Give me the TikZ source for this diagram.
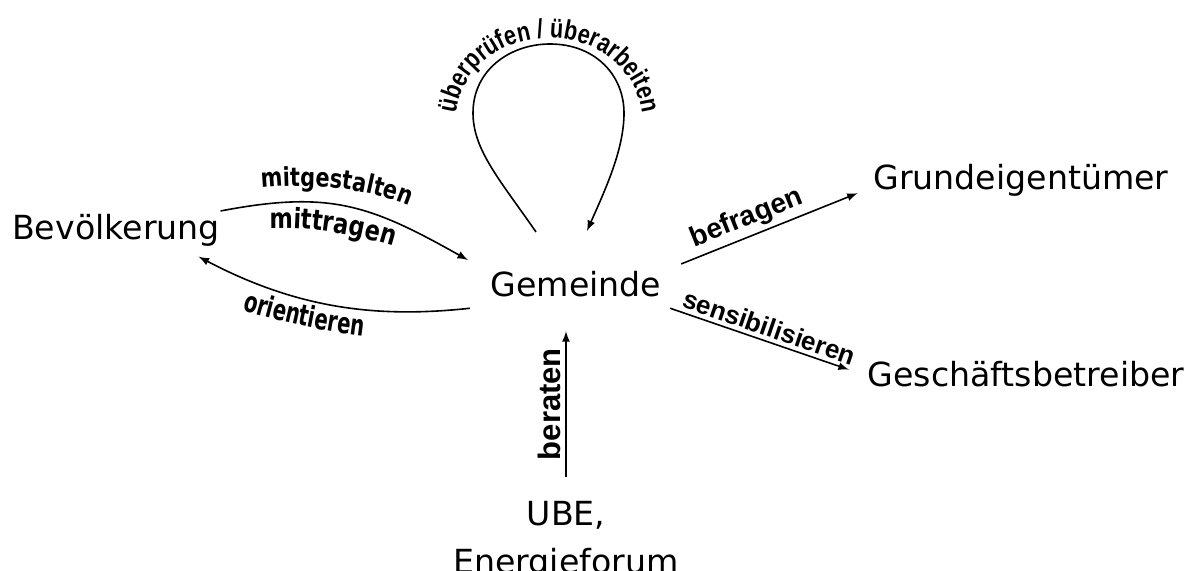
\documentclass[tikz,border=0pt]{standalone}
\usepackage{fontspec}
\setmainfont{DejaVu Sans}
\newfontfamily\lblfamily{Liberation Sans}
\newfontfamily\narrowfamily{DejaVu Sans}[FakeStretch=0.8]
\newfontfamily\tallfamily{DejaVu Sans}[FakeStretch=0.68]
\newfontfamily\loopfamily{Liberation Sans}[FakeStretch=0.8]
\newcommand\curvefont{\narrowfamily\bfseries\fontsize{13}{15}\selectfont}
\newcommand\loopfont{\loopfamily\bfseries\fontsize{13.5}{15}\selectfont}
\usetikzlibrary{arrows,decorations.text}

\begin{document}
\begin{tikzpicture}[x=0.5pt,y=-0.5pt,>=latex,line width=0.8pt,
  party/.style={font=\fontsize{16.6}{24}\selectfont, inner sep=2pt},
  verb/.style={font=\lblfamily\bfseries\fontsize{14}{16}\selectfont, inner sep=2pt, sloped, above},
  curvetext/.style={decoration={text along path, text align=center, text={#1}}, decorate}]
  \useasboundingbox (0,0) rectangle (1200,571);

  \node[party, anchor=base]                (bev) at (116,240)  {Bevölkerung};
  \node[party, anchor=base]                (gem) at (576,297)  {Gemeinde};
  \node[party, anchor=base]                (gru) at (1021,190) {Grundeigentümer};
  \node[party, anchor=base]                (ges) at (1026,387) {Geschäftsbetreiber};
  \node[party, anchor=north, align=center] (ube) at (566,496)  {UBE,\\Energieforum};

  % Bevoelkerung <-> Gemeinde
  \draw[->] ([xshift=-2pt,yshift=-0.5pt]bev.north east)
    .. controls (330,190) and (370,205) .. ([xshift=-9pt,yshift=3.5pt]gem.north west);
  \draw[->] ([xshift=-8pt,yshift=-3pt]gem.south west)
    .. controls (380,318) and (300,310) .. ([xshift=-13pt,yshift=-2.5pt]bev.south east);
  \path[curvetext={|\curvefont|mitgestalten}] (254,189) .. controls (310,182) and (370,188) .. (416,209);
  \path[curvetext={|\curvefont\fontsize{14}{16}\selectfont|mittragen}] (264,229) .. controls (300,226) and (350,232) .. (399,248);
  \path[curvetext={|\tallfamily\bfseries\fontsize{14.5}{16}\selectfont|orientieren}] (234,308) .. controls (280,322) and (320,331) .. (372,337);

  % Gemeinde loop
  \draw[->] ([xshift=-20pt,yshift=17.5pt]gem.north)
    .. controls (500,180) and (473,150) .. (473,113)
    .. controls (473,70) and (510,44) .. (550,44)
    .. controls (595,44) and (624,75) .. (624,113)
    .. controls (624,150) and (605,190) .. ([xshift=5.5pt,yshift=18pt]gem.north);
  \path[curvetext={|\loopfont|überprüfen / überarbeiten}] (455,128) .. controls (455,8) and (643,8) .. (643,128);

  \path[->]
  ([xshift=7.5pt,yshift=1.5pt]gem.north east)
  edge
  node[verb, pos=0.41] {befragen} ([xshift=-5.5pt,yshift=4.25pt]gru.south west)

  ([xshift=2pt,yshift=-3pt]gem.south east)
  edge
  node[verb, pos=0.53, font=\lblfamily\bfseries\fontsize{13}{15}\selectfont] {sensibilisieren} ([xshift=-7pt,yshift=2.5pt]ges.west)

  ([yshift=9.5pt]ube.north)
  edge
  node[verb, pos=0.5, font=\lblfamily\bfseries\fontsize{15.5}{17}\selectfont] {beraten} ([xshift=-5pt,yshift=-14.5pt]gem.south)
;
\end{tikzpicture}
\end{document}
